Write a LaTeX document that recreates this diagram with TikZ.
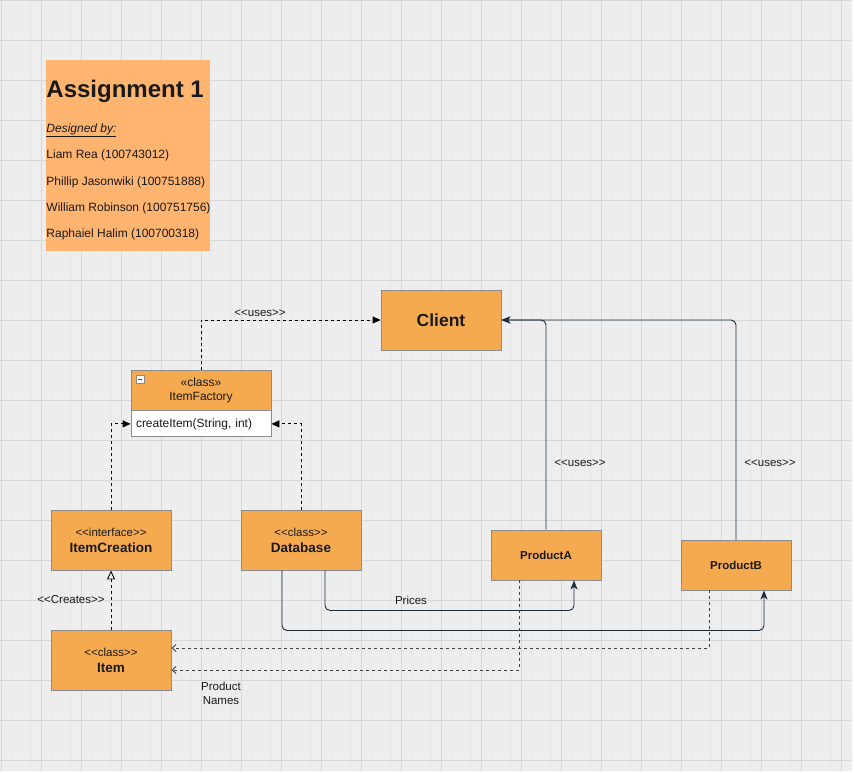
\documentclass[tikz,border=0pt]{standalone}
\usepackage{fontspec}
\setmainfont{Liberation Sans}
\usetikzlibrary{arrows.meta}
\usepackage{xcolor}

\definecolor{boxfill}{HTML}{F5AA50}
\definecolor{notefill}{HTML}{FFB570}
\definecolor{boxline}{HTML}{8C8C8C}
\definecolor{wirecol}{HTML}{1C2B3A}
\definecolor{paper}{HTML}{EEEEEE}
\definecolor{gridmajor}{HTML}{D8D8D8}
\definecolor{gridminor}{HTML}{E9E9E9}
\newcommand\stereo[1]{<{}<#1>{}>}

\begin{document}
\begin{tikzpicture}[x=1pt,y=-1pt,line width=0.9pt,
  cls/.style={draw=boxline,fill=boxfill,minimum width=120,minimum height=60,inner sep=0pt,
    align=center,text=black!90,font=\fontsize{11.5}{16}\selectfont},
  prod/.style={cls,minimum width=110,minimum height=50,font=\bfseries\fontsize{11.5}{14}\selectfont},
  lbl/.style={inner sep=0pt,text=black!90,font=\fontsize{11.5}{14}\selectfont},
  note/.style={anchor=base west,inner sep=0pt,text=black!90,font=\fontsize{12}{14}\selectfont},
  uses/.style={dash pattern=on 3pt off 3pt,-{Triangle[length=8pt,width=7pt]}},
  real/.style={dash pattern=on 3pt off 3pt,-{Triangle[open,length=9pt,width=8pt,fill=white]}},
  dep/.style={black!75,dash pattern=on 3pt off 3pt,-{Straight Barb[length=4pt,width=7pt]}},
  wire/.style={wirecol,rounded corners=5pt,-{Stealth[length=9pt,width=7pt,inset=2.5pt]}}]
  \useasboundingbox (0,0) rectangle (854,773);
  \fill[white] (0,0) rectangle (854,773);
  \fill[paper] (0,0) rectangle (851,771);
  \foreach \gx in {1,11,...,851} \draw[gridminor,line width=0.4pt] (\gx,0) -- (\gx,771);
  \foreach \gy in {0,10,...,770} \draw[gridminor,line width=0.4pt] (0,\gy) -- (851,\gy);
  \foreach \gx in {1,41,...,841} \draw[gridmajor,line width=0.7pt] (\gx,0) -- (\gx,771);
  \foreach \gy in {0,40,...,760} \draw[gridmajor,line width=0.7pt] (0,\gy) -- (851,\gy);

  \node[fill=notefill,minimum width=164,minimum height=191,inner sep=0pt] (notebox) at (128,155.5) {};
  \node[note,font=\bfseries\fontsize{24}{28}\selectfont] (title) at (46,98) {Assignment 1};
  \node[note] (designed) at (46,132) {\underline{\textit{Designed by:}}};
  \node[note] (liam) at (46,159) {Liam Rea (100743012)};
  \node[note] (phillip) at (46,185) {Phillip Jasonwiki (100751888)};
  \node[note] (william) at (46,211) {William Robinson (100751756)};
  \node[note] (raphaiel) at (46,237) {Raphaiel Halim (100700318)};

  \node[cls,font=\bfseries\fontsize{17.5}{20}\selectfont] (client) at (441,320) {Client};
  \node[cls,minimum width=140,minimum height=40,font=\fontsize{12}{14}\selectfont] (factory) at (201,390) {«class»\\ItemFactory};
  \node[draw=boxline,fill=white,minimum width=140,minimum height=26,inner sep=0pt,text width=130,
    align=left,anchor=north,text=black!90,font=\fontsize{12}{14}\selectfont] (factoryops) at (factory.south) {createItem(String, int)};
  \draw[boxline,line width=0.7pt,fill=white] (136,375) rectangle (144,383);
  \draw[black!70,line width=0.9pt] (138,379) -- (142,379);
  \node[cls] (creation) at (111,540) {\stereo{interface}\\\textbf{\fontsize{13.5}{16}\selectfont ItemCreation}};
  \node[cls] (database) at (301,540) {\stereo{class}\\\textbf{\fontsize{13.5}{16}\selectfont Database}};
  \node[cls] (item) at (111,660) {\stereo{class}\\\textbf{\fontsize{13.5}{16}\selectfont Item}};
  \node[prod] (proda) at (546,555) {ProductA};
  \node[prod] (prodb) at (736,565) {ProductB};

  \draw[uses] (factory.north) |- (client.west);
  \draw[uses] (creation.north) |- (factoryops.west);
  \draw[uses] (database.north) |- (factoryops.east);
  \draw[wire] (proda.north) |- (client.east);
  \draw[wire] (prodb.north) |- (client.east);
  \draw[real] (item.north) -- (creation.south);
  \draw[wire] ([xshift=24pt]database.south) -- ++(0,40) -| ([xshift=28pt]proda.south);
  \draw[wire] ([xshift=-19pt]database.south) -- ++(0,60) -| ([xshift=28pt]prodb.south);
  \draw[dep] ([xshift=-27pt]proda.south) |- ([yshift=-10pt]item.east);
  \draw[dep] ([xshift=-27pt]prodb.south) |- ([yshift=12pt]item.east);

  \node[lbl] (usesfactory) at (260,313) {\stereo{uses}};
  \node[lbl] (usesa) at (580,463) {\stereo{uses}};
  \node[lbl] (usesb) at (770,463) {\stereo{uses}};
  \node[lbl] (creates) at (71,600) {\stereo{Creates}};
  \node[lbl] (prices) at (411,600) {Prices};
  \node[lbl,align=center] (names) at (221,693) {Product\\Names};
\end{tikzpicture}
\end{document}
